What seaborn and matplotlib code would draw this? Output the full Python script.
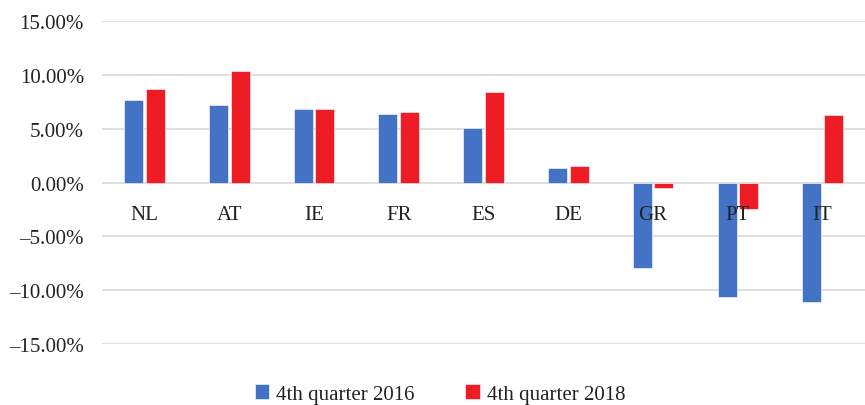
import matplotlib
matplotlib.use("Agg")
import matplotlib.pyplot as plt
import seaborn as sns
import pandas as pd
from matplotlib.ticker import FuncFormatter, MultipleLocator

countries = ["NL", "AT", "IE", "FR", "ES", "DE", "GR", "PT", "IT"]
q4_2016 = [7.62, 7.19, 6.81, 6.38, 5.05, 1.32, -7.96, -10.66, -11.13]
q4_2018 = [8.68, 10.35, 6.84, 6.56, 8.40, 1.51, -0.54, -2.47, 6.28]
series_names = ["4th quarter 2016", "4th quarter 2018"]
colors = ["#4472C4", "#EE1C25"]

df = pd.DataFrame({
    "country": countries * 2,
    "value": q4_2016 + q4_2018,
    "series": [series_names[0]] * len(countries) + [series_names[1]] * len(countries),
})

sns.set_theme(style="white")
plt.rcParams["font.family"] = ["Liberation Serif", "DejaVu Serif"]

fig = plt.figure(figsize=(8.65, 4.06), dpi=100)
ax = fig.add_axes([0.118, 0.150, 0.882, 0.796])

sns.barplot(data=df, x="country", y="value", hue="series", palette=colors,
            saturation=1, width=0.51, gap=0.12, edgecolor="white", linewidth=0.4, ax=ax)

ax.set_ylim(-15, 15)
ax.set_xlim(-0.5, len(countries) - 0.5)
ax.yaxis.set_major_locator(MultipleLocator(5))
ax.yaxis.set_major_formatter(FuncFormatter(
    lambda v, p: ("–" if v < 0 else "") + f"{abs(v):.2f}%"))
ax.grid(axis="y", color="#d9d9d9", linewidth=1.2)
ax.set_axisbelow(True)
ax.xaxis.set_zorder(3)
for s in ["top", "right", "left"]:
    ax.spines[s].set_visible(False)
ax.spines["bottom"].set_position(("data", 0))
ax.spines["bottom"].set_visible(False)
ax.tick_params(axis="y", length=0, pad=13, labelsize=15, labelcolor="#222222")
ax.tick_params(axis="x", length=0, pad=16, labelsize=15, labelcolor="#222222")
ax.set_xlabel("")
ax.set_ylabel("")

handles, labels = ax.get_legend_handles_labels()
ax.legend(handles, labels, loc="center", bbox_to_anchor=(440 / 865, 11 / 406),
          bbox_transform=fig.transFigure, ncol=2, frameon=False, fontsize=15,
          handlelength=0.7, handleheight=0.7, handletextpad=0.35, columnspacing=2.4,
          labelcolor="#222222")

fig.savefig("out.png", dpi=100)
